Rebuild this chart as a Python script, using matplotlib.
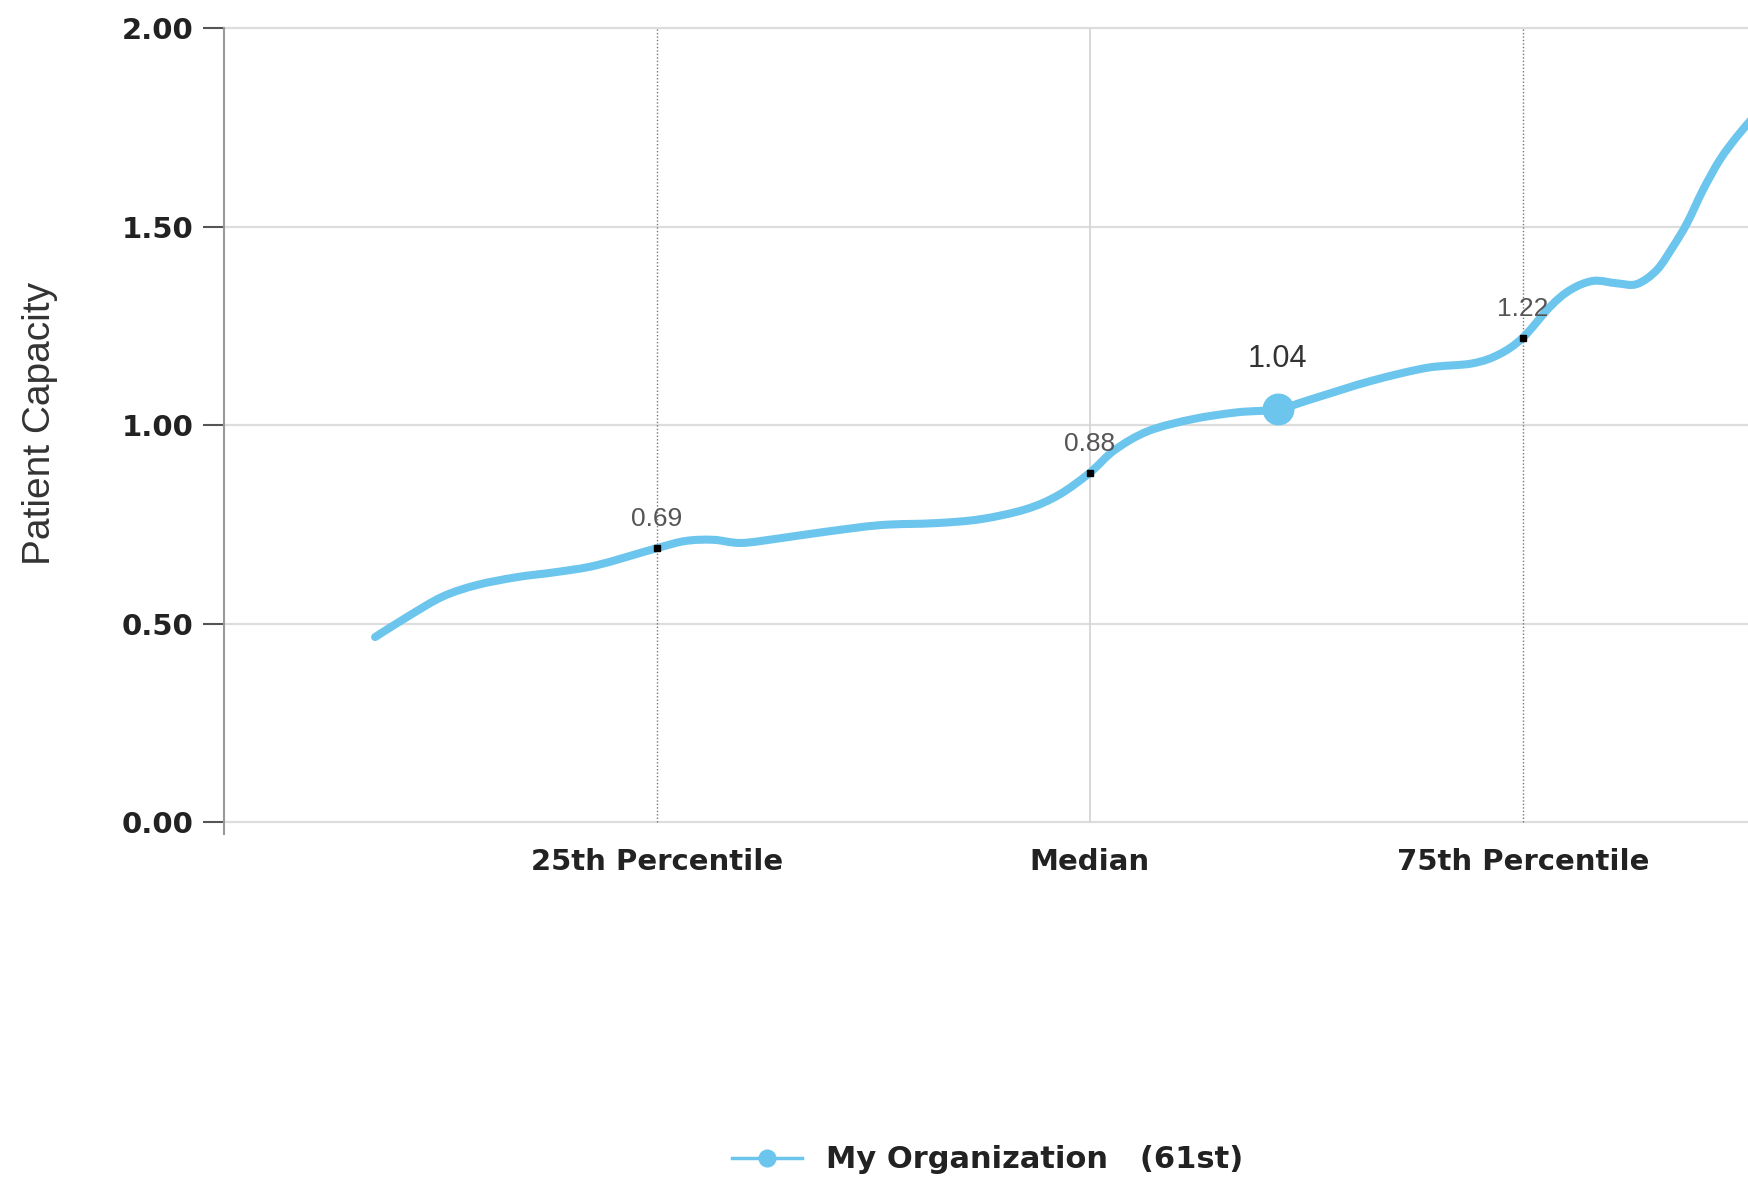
import matplotlib.pyplot as plt
from matplotlib.path import Path
from matplotlib.patches import PathPatch

# Percentile curve (x: 0 = axis, 1 = 25th, 2 = median, 3 = 75th)
curve_x = [0.349, 0.425, 0.505, 0.584, 0.677, 0.769, 0.861, 1.0,
           1.066, 1.130, 1.195, 1.285, 1.388, 1.517, 1.645, 1.748, 1.852,
           1.928, 2.0, 2.057, 2.135, 2.238, 2.340, 2.434, 2.520, 2.649,
           2.778, 2.882, 2.945, 3.0, 3.062, 3.109, 3.162, 3.217,
           3.263, 3.309, 3.346, 3.379, 3.416, 3.455, 3.494, 3.53]
curve_y = [0.466, 0.518, 0.568, 0.597, 0.617, 0.630, 0.647, 0.69,
           0.708, 0.711, 0.703, 0.715, 0.731, 0.748, 0.753, 0.763, 0.788,
           0.824, 0.88, 0.937, 0.985, 1.015, 1.032, 1.04, 1.068, 1.111,
           1.144, 1.155, 1.178, 1.22, 1.297, 1.340, 1.363, 1.357,
           1.355, 1.390, 1.448, 1.508, 1.592, 1.668, 1.726, 1.772]

pct_x = [1, 2, 3]
pct_y = [0.69, 0.88, 1.22]
pct_labels = ['25th Percentile', 'Median', '75th Percentile']

org_x = 2.434
org_y = 1.04
org_label = 'My Organization   (61st)'

yticks = [0.0, 0.5, 1.0, 1.5, 2.0]

blue = '#6cc5ec'


# spline-style path through the points (Catmull-Rom as cubic beziers)
def spline_path(xs, ys):
    pts = list(zip(xs, ys))
    verts = [pts[0]]
    codes = [Path.MOVETO]
    n = len(pts)
    for i in range(n - 1):
        p0 = pts[i - 1] if i > 0 else pts[i]
        p1 = pts[i]
        p2 = pts[i + 1]
        p3 = pts[i + 2] if i + 2 < n else pts[i + 1]
        c1 = (p1[0] + (p2[0] - p0[0]) / 6, p1[1] + (p2[1] - p0[1]) / 6)
        c2 = (p2[0] - (p3[0] - p1[0]) / 6, p2[1] - (p3[1] - p1[1]) / 6)
        verts += [c1, c2, p2]
        codes += [Path.CURVE4] * 3
    return Path(verts, codes)


fig = plt.figure(figsize=(17.48, 11.82), dpi=100)
ax = fig.add_axes([224 / 1748, 1 - 834 / 1182, 1 - 224 / 1748, (834 - 28) / 1182])

# grid
for y in yticks:
    ax.axhline(y, color='#dddddd', lw=1.6, zorder=0, clip_on=False)
ax.axvline(1, ymin=0.03 / 2.03, ymax=1, color='#777777', lw=1.0, ls=(0, (1, 1.5)), zorder=1)
ax.axvline(2, ymin=0.03 / 2.03, ymax=1, color='#d5d5d5', lw=1.3, zorder=1)
ax.axvline(3, ymin=0.03 / 2.03, ymax=1, color='#777777', lw=1.0, ls=(0, (1, 1.5)), zorder=1)

curve = PathPatch(spline_path(curve_x, curve_y), facecolor='none', edgecolor=blue,
                  lw=5.8, capstyle='round', joinstyle='round', zorder=3)
ax.add_patch(curve)
ax.plot(pct_x, pct_y, 's', color='black', ms=4.5, zorder=4)
ax.plot([org_x], [org_y], 'o', color=blue, ms=22, zorder=5)

for x, y in zip(pct_x, pct_y):
    ax.annotate(f'{y:.2f}', (x, y), xytext=(0, 21), textcoords='offset points',
                ha='center', va='center', fontsize=19, color='#555555',
                family='Liberation Sans')
ax.annotate(f'{org_y:.2f}', (org_x, org_y), xytext=(0, 36), textcoords='offset points',
            ha='center', va='center', fontsize=22, color='#333333',
            family='Liberation Sans')

ax.set_xlim(0, 3.52)
ax.set_ylim(-0.03, 2.0)
ax.set_yticks(yticks)
ax.set_yticklabels([f'{v:.2f}' for v in yticks], fontsize=21, fontweight='bold', color='#222222')
ax.set_xticks(pct_x)
ax.set_xticklabels(pct_labels, fontsize=21, fontweight='bold', color='#222222')
ax.tick_params(axis='x', length=0, pad=10)
ax.tick_params(axis='y', length=15, width=1.5, color='#555555', pad=7)

for s in ['top', 'right', 'bottom']:
    ax.spines[s].set_visible(False)
ax.spines['left'].set_color('#999999')
ax.spines['left'].set_linewidth(1.5)

ax.set_ylabel('Patient Capacity', fontsize=28, color='#333333', family='Liberation Sans')
ax.yaxis.set_label_coords(-(224 - 58) / 1524, 0.51)

handle, = ax.plot([], [], color=blue, lw=2.5, marker='o', ms=12)
fig.legend([handle], [org_label], loc='center', bbox_to_anchor=(0.565, 1 - 1160 / 1182),
           frameon=False, prop={'size': 22, 'weight': 'bold'}, handlelength=2.3,
           labelcolor='#222222')

fig.savefig('out.png', dpi=100)
